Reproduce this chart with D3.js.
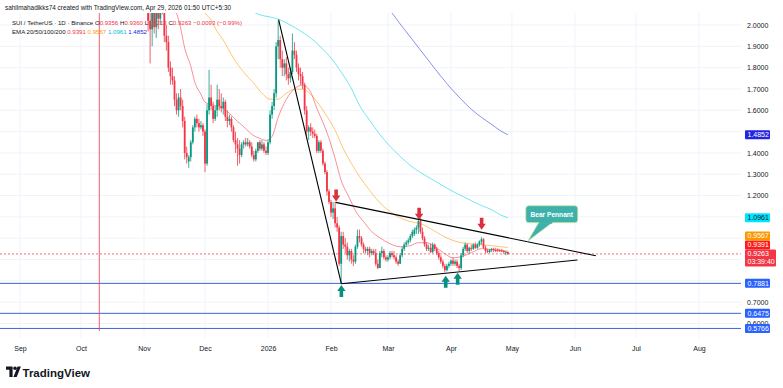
<!DOCTYPE html>
<html>
<head>
<meta charset="utf-8">
<script src="https://cdn.jsdelivr.net/npm/d3@7"></script>
<style>
  body { margin: 0; background: #fff; }
  svg text { font-family: "Liberation Sans", Arial, sans-serif; }
</style>
</head>
<body>
<svg id="chart"></svg>
<script>
// SUI / TetherUS daily, Binance - bear pennant

// daily candles [open, high, low, close], first one is Nov 3 2025
const firstDay = "2025-11-03";
const candles = [
  // Nov
  [2.25, 2.30, 1.97, 2.02], [2.02, 2.08, 1.82, 1.98], [1.98, 2.10, 1.90, 2.06], [2.06, 2.10, 1.96, 1.99],
  [1.99, 2.12, 1.94, 2.08], [2.08, 2.12, 1.98, 2.03], [2.03, 2.15, 2.00, 2.12], [2.12, 2.20, 2.05, 2.10],
  [2.10, 2.14, 1.92, 1.95], [1.95, 2.00, 1.88, 1.92], [1.92, 1.95, 1.78, 1.80], [1.80, 1.83, 1.72, 1.76],
  [1.76, 1.80, 1.72, 1.74], [1.74, 1.76, 1.62, 1.65], [1.65, 1.68, 1.58, 1.60], [1.60, 1.68, 1.57, 1.66],
  [1.66, 1.70, 1.60, 1.62], [1.62, 1.65, 1.52, 1.55], [1.55, 1.57, 1.37, 1.40], [1.40, 1.43, 1.35, 1.38],
  [1.36, 1.39, 1.33, 1.38], [1.38, 1.46, 1.36, 1.45], [1.45, 1.53, 1.44, 1.52], [1.52, 1.57, 1.50, 1.56],
  [1.56, 1.58, 1.52, 1.54], [1.54, 1.56, 1.50, 1.52], [1.52, 1.55, 1.51, 1.53], [1.53, 1.54, 1.48, 1.50],
  // Dec
  [1.50, 1.51, 1.31, 1.35], [1.35, 1.63, 1.34, 1.60], [1.60, 1.79, 1.58, 1.66], [1.66, 1.72, 1.60, 1.62],
  [1.62, 1.64, 1.54, 1.56], [1.56, 1.62, 1.55, 1.60], [1.60, 1.72, 1.57, 1.65], [1.65, 1.70, 1.60, 1.62],
  [1.62, 1.68, 1.59, 1.61], [1.61, 1.66, 1.58, 1.64], [1.64, 1.65, 1.55, 1.57], [1.57, 1.60, 1.52, 1.55],
  [1.55, 1.58, 1.53, 1.56], [1.56, 1.57, 1.50, 1.52], [1.52, 1.53, 1.45, 1.46], [1.46, 1.50, 1.40, 1.44],
  [1.44, 1.47, 1.34, 1.42], [1.42, 1.46, 1.35, 1.39], [1.39, 1.45, 1.38, 1.44], [1.44, 1.46, 1.42, 1.45],
  [1.45, 1.47, 1.43, 1.44], [1.44, 1.47, 1.43, 1.45], [1.45, 1.46, 1.42, 1.43], [1.43, 1.45, 1.38, 1.39],
  [1.39, 1.41, 1.36, 1.37], [1.37, 1.42, 1.36, 1.41], [1.41, 1.45, 1.40, 1.45], [1.45, 1.46, 1.41, 1.42],
  [1.42, 1.46, 1.41, 1.44], [1.44, 1.45, 1.40, 1.41], [1.41, 1.43, 1.39, 1.40],
  // Jan
  [1.40, 1.46, 1.39, 1.45], [1.45, 1.60, 1.44, 1.58], [1.58, 1.64, 1.56, 1.62], [1.62, 1.70, 1.60, 1.68],
  [1.68, 1.92, 1.66, 1.90], [1.90, 2.02, 1.84, 1.93], [1.93, 1.95, 1.80, 1.84], [1.84, 1.88, 1.76, 1.80],
  [1.80, 1.84, 1.76, 1.82], [1.82, 1.85, 1.74, 1.77], [1.77, 1.80, 1.72, 1.75], [1.75, 1.80, 1.73, 1.78],
  [1.78, 1.96, 1.77, 1.88], [1.88, 1.92, 1.84, 1.86], [1.86, 1.88, 1.78, 1.80], [1.80, 1.82, 1.74, 1.77],
  [1.77, 1.80, 1.72, 1.76], [1.76, 1.78, 1.70, 1.72], [1.72, 1.73, 1.58, 1.60], [1.60, 1.62, 1.48, 1.50],
  [1.50, 1.53, 1.46, 1.52], [1.52, 1.54, 1.48, 1.50], [1.50, 1.52, 1.47, 1.49], [1.49, 1.51, 1.47, 1.48],
  [1.48, 1.49, 1.40, 1.41], [1.41, 1.46, 1.40, 1.45], [1.45, 1.46, 1.40, 1.41], [1.41, 1.42, 1.34, 1.35],
  [1.35, 1.36, 1.30, 1.31], [1.31, 1.32, 1.20, 1.22], [1.22, 1.23, 1.16, 1.17],
  // Feb
  [1.17, 1.18, 1.10, 1.12], [1.12, 1.17, 1.09, 1.14], [1.14, 1.17, 1.05, 1.07], [1.07, 1.10, 1.03, 1.05],
  [1.05, 1.06, 0.87, 0.88], [0.88, 1.03, 0.787, 1.01], [1.01, 1.03, 0.95, 0.97], [0.97, 1.00, 0.93, 0.96],
  [0.96, 0.98, 0.90, 0.92], [0.92, 0.95, 0.89, 0.94], [0.94, 0.95, 0.88, 0.90], [0.90, 0.92, 0.87, 0.89],
  [0.89, 0.97, 0.88, 0.96], [0.96, 1.04, 0.95, 1.01], [1.01, 1.04, 0.98, 1.00], [1.00, 1.01, 0.96, 0.97],
  [0.97, 0.98, 0.93, 0.95], [0.95, 0.96, 0.93, 0.94], [0.94, 0.96, 0.92, 0.95], [0.95, 0.96, 0.91, 0.93],
  [0.93, 0.95, 0.92, 0.94], [0.94, 0.95, 0.92, 0.93], [0.93, 0.95, 0.87, 0.88], [0.88, 0.90, 0.855, 0.86],
  [0.86, 0.94, 0.86, 0.93], [0.93, 0.96, 0.91, 0.94], [0.94, 0.95, 0.90, 0.91], [0.91, 0.92, 0.89, 0.90],
  // Mar
  [0.90, 0.92, 0.89, 0.91], [0.91, 0.94, 0.90, 0.93], [0.93, 0.94, 0.91, 0.92], [0.92, 0.94, 0.90, 0.91],
  [0.91, 0.92, 0.88, 0.89], [0.89, 0.90, 0.87, 0.88], [0.88, 0.93, 0.88, 0.92], [0.92, 0.96, 0.91, 0.95],
  [0.95, 0.98, 0.94, 0.97], [0.97, 0.99, 0.96, 0.98], [0.98, 1.00, 0.97, 0.99], [0.99, 1.02, 0.98, 1.01],
  [1.01, 1.04, 1.00, 1.03], [1.02, 1.05, 1.01, 1.04], [1.04, 1.06, 1.02, 1.05], [1.05, 1.10, 1.02, 1.08],
  [1.08, 1.095, 1.02, 1.03], [1.03, 1.05, 0.99, 1.00], [1.00, 1.01, 0.96, 0.97], [0.97, 0.98, 0.94, 0.95],
  [0.95, 0.97, 0.94, 0.955], [0.955, 0.975, 0.93, 0.935], [0.935, 0.98, 0.93, 0.97], [0.97, 0.975, 0.94, 0.95],
  [0.95, 0.96, 0.92, 0.93], [0.93, 0.94, 0.90, 0.91], [0.91, 0.92, 0.88, 0.89], [0.89, 0.90, 0.86, 0.87],
  [0.87, 0.88, 0.84, 0.85], [0.85, 0.88, 0.845, 0.87], [0.87, 0.89, 0.86, 0.88],
  // Apr
  [0.88, 0.90, 0.87, 0.895], [0.895, 0.91, 0.87, 0.88], [0.88, 0.90, 0.87, 0.89], [0.89, 0.90, 0.86, 0.87],
  [0.87, 0.88, 0.845, 0.86], [0.86, 0.93, 0.85, 0.92], [0.92, 0.96, 0.91, 0.95], [0.95, 0.98, 0.94, 0.97],
  [0.97, 0.975, 0.93, 0.94], [0.94, 0.96, 0.93, 0.955], [0.955, 0.97, 0.94, 0.95], [0.95, 0.975, 0.945, 0.97],
  [0.97, 0.98, 0.95, 0.955], [0.955, 0.975, 0.95, 0.97], [0.97, 0.99, 0.96, 0.985], [0.985, 1.005, 0.97, 0.995],
  [0.995, 1.00, 0.95, 0.955], [0.955, 0.965, 0.93, 0.94], [0.94, 0.95, 0.93, 0.935], [0.935, 0.95, 0.93, 0.945],
  [0.945, 0.955, 0.935, 0.95], [0.95, 0.955, 0.935, 0.945], [0.945, 0.955, 0.935, 0.94], [0.948, 0.952, 0.935, 0.944],
  [0.944, 0.95, 0.935, 0.942], [0.942, 0.95, 0.935, 0.940], [0.940, 0.945, 0.925, 0.935], [0.935, 0.94, 0.92, 0.9356],
  [0.9356, 0.9360, 0.9213, 0.9263]
];

// Oct 10 crash candle, only its wick reaches the visible range
const crashCandle = ["2025-10-10", 3.58, 3.66, 0.565, 2.64];

// EMA lines [date, value]
const ema20 = [
  ["2025-11-15", 2.10], ["2025-11-17", 2.056], ["2025-11-19", 1.986], ["2025-11-21", 1.892], ["2025-11-24", 1.807],
  ["2025-11-26", 1.732], ["2025-11-29", 1.675], ["2025-12-01", 1.638], ["2025-12-04", 1.628], ["2025-12-07", 1.619],
  ["2025-12-10", 1.609], ["2025-12-13", 1.586], ["2025-12-17", 1.548], ["2025-12-21", 1.515], ["2025-12-24", 1.487],
  ["2025-12-28", 1.468], ["2025-12-31", 1.459], ["2026-01-03", 1.478], ["2026-01-06", 1.567], ["2026-01-09", 1.633],
  ["2026-01-12", 1.680], ["2026-01-15", 1.708], ["2026-01-18", 1.718], ["2026-01-22", 1.685], ["2026-01-25", 1.609],
  ["2026-01-28", 1.544], ["2026-01-31", 1.468], ["2026-02-03", 1.374], ["2026-02-06", 1.271], ["2026-02-10", 1.190],
  ["2026-02-13", 1.129], ["2026-02-17", 1.078], ["2026-02-21", 1.031], ["2026-02-25", 1.002], ["2026-03-02", 0.974],
  ["2026-03-07", 0.960], ["2026-03-12", 0.965], ["2026-03-16", 0.979], ["2026-03-20", 0.979], ["2026-03-24", 0.960],
  ["2026-03-29", 0.927], ["2026-04-02", 0.908], ["2026-04-06", 0.913], ["2026-04-11", 0.932], ["2026-04-16", 0.951],
  ["2026-04-21", 0.946], ["2026-04-25", 0.941], ["2026-04-29", 0.9391]
];
const ema50 = [
  ["2025-11-28", 2.10], ["2025-12-01", 2.056], ["2025-12-04", 2.024], ["2025-12-06", 1.986], ["2025-12-10", 1.929],
  ["2025-12-15", 1.845], ["2025-12-20", 1.779], ["2025-12-25", 1.727], ["2025-12-29", 1.680], ["2026-01-02", 1.652],
  ["2026-01-06", 1.652], ["2026-01-10", 1.680], ["2026-01-14", 1.699], ["2026-01-18", 1.699], ["2026-01-22", 1.675],
  ["2026-01-26", 1.628], ["2026-01-30", 1.572], ["2026-02-03", 1.506], ["2026-02-07", 1.421], ["2026-02-11", 1.351],
  ["2026-02-15", 1.289], ["2026-02-20", 1.224], ["2026-02-25", 1.167], ["2026-03-02", 1.125], ["2026-03-07", 1.096],
  ["2026-03-12", 1.078], ["2026-03-17", 1.068], ["2026-03-22", 1.045], ["2026-03-27", 1.016], ["2026-04-01", 0.993],
  ["2026-04-06", 0.979], ["2026-04-11", 0.974], ["2026-04-16", 0.969], ["2026-04-21", 0.965], ["2026-04-25", 0.960],
  ["2026-04-29", 0.9567]
];
const ema100 = [
  ["2025-12-20", 2.09], ["2025-12-26", 2.056], ["2025-12-29", 2.045], ["2026-01-02", 2.038], ["2026-01-07", 2.024],
  ["2026-01-12", 2.000], ["2026-01-17", 1.972], ["2026-01-22", 1.939], ["2026-01-27", 1.896], ["2026-02-01", 1.845],
  ["2026-02-06", 1.779], ["2026-02-11", 1.703], ["2026-02-15", 1.623], ["2026-02-20", 1.553], ["2026-02-25", 1.487],
  ["2026-03-02", 1.431], ["2026-03-07", 1.384], ["2026-03-12", 1.341], ["2026-03-17", 1.308], ["2026-03-22", 1.280],
  ["2026-03-27", 1.252], ["2026-04-01", 1.224], ["2026-04-06", 1.200], ["2026-04-11", 1.176], ["2026-04-16", 1.153],
  ["2026-04-21", 1.134], ["2026-04-25", 1.111], ["2026-04-29", 1.0961]
];
const ema200 = [
  ["2026-02-27", 2.10], ["2026-03-03", 2.056], ["2026-03-07", 2.005], ["2026-03-12", 1.944], ["2026-03-17", 1.882],
  ["2026-03-22", 1.821], ["2026-03-27", 1.760], ["2026-04-01", 1.703], ["2026-04-06", 1.652], ["2026-04-11", 1.605],
  ["2026-04-16", 1.567], ["2026-04-21", 1.534], ["2026-04-25", 1.506], ["2026-04-29", 1.4852]
];

// horizontal support levels
const levels = [0.7881, 0.6475, 0.5766];
const lastPrice = 0.9263;
const countdown = "03:39:40";

// axis ticks
const priceTicks = [2.0, 1.9, 1.8, 1.7, 1.6, 1.5, 1.4, 1.3, 1.2, 1.1, 1.0, 0.9, 0.8, 0.7, 0.6];
const monthTicks = ["2025-09-01", "2025-10-01", "2025-11-01", "2025-12-01", "2026-01-01", "2026-02-01",
  "2026-03-01", "2026-04-01", "2026-05-01", "2026-06-01", "2026-07-01", "2026-08-01"];
const monthLabels = ["Sep", "Oct", "Nov", "Dec", "2026", "Feb", "Mar", "Apr", "May", "Jun", "Jul", "Aug"];

// drawings
const trendLines = [
  [["2026-01-06T05:00", 2.025], ["2026-02-06T02:00", 0.786]],
  [["2026-02-03T05:00", 1.168], ["2026-06-11T07:00", 0.9176]],
  [["2026-02-06T02:00", 0.7866], ["2026-06-02T05:00", 0.8974]]
];
const downArrows = [["2026-02-03T12:00", 1.172], ["2026-03-16T08:00", 1.087], ["2026-04-16T02:00", 1.040]];
const upArrows = [["2026-02-06T02:00", 0.781], ["2026-03-29T10:00", 0.824], ["2026-04-04T07:00", 0.838]];
const pennantTip = ["2026-05-08T19:00", 0.986];
const pennantText = "Bear Pennant";

const headerText = "sahilmahadikks74 created with TradingView.com, Apr 29, 2026 01:50 UTC+5:30";

const toDate = s => new Date(s.length === 10 ? s + "T00:00Z" : s + "Z");

var dimensions = {
    width: 783,
    height: 388,
    plotTop: 13,
    plotBottom: 338,
    plotRight: 741
}

const upColor = "#089981", downColor = "#f23645";
const textColor = "#131722";

var svg = d3.select("#chart")
    .attr("width", dimensions.width)
    .attr("height", dimensions.height)
    .style("background-color", "white");

var xScale = d3.scaleUtc()
    .domain([toDate("2025-08-22T03:33"), toDate("2026-08-21T16:20")])
    .range([0, dimensions.plotRight]);

var yScale = d3.scaleLinear()
    .domain([0.5318, 2.0565])
    .range([dimensions.plotBottom, dimensions.plotTop]);

// bars with dates
var start = toDate(firstDay);
var bars = candles.map((c, i) => ({ date: d3.utcDay.offset(start, i), o: c[0], h: c[1], l: c[2], c: c[3] }));
bars.unshift({ date: toDate(crashCandle[0]), o: crashCandle[1], h: crashCandle[2], l: crashCandle[3], c: crashCandle[4] });

svg.append("defs").append("clipPath").attr("id", "plotClip")
    .append("rect")
    .attr("x", 0).attr("y", dimensions.plotTop)
    .attr("width", dimensions.plotRight).attr("height", dimensions.plotBottom - dimensions.plotTop);

// grid
var grid = svg.append("g");
grid.selectAll(".hgrid").data(priceTicks).enter().append("line")
    .attr("x1", 0).attr("x2", dimensions.plotRight)
    .attr("y1", d => yScale(d)).attr("y2", d => yScale(d))
    .attr("stroke", "#f0f3fa").attr("stroke-width", 1);
grid.selectAll(".vgrid").data(monthTicks).enter().append("line")
    .attr("x1", d => xScale(toDate(d))).attr("x2", d => xScale(toDate(d)))
    .attr("y1", dimensions.plotTop).attr("y2", dimensions.plotBottom)
    .attr("stroke", "#f0f3fa").attr("stroke-width", 1);

var plot = svg.append("g").attr("clip-path", "url(#plotClip)");

// support levels
plot.selectAll(".level").data(levels).enter().append("line")
    .attr("x1", 0).attr("x2", dimensions.plotRight + 4)
    .attr("y1", d => yScale(d)).attr("y2", d => yScale(d))
    .attr("stroke", "#3d63d8").attr("stroke-width", 1);

// moving averages
var maLine = d3.line()
    .x(d => xScale(toDate(d[0])))
    .y(d => yScale(d[1]))
    .curve(d3.curveMonotoneX);

const maSeries = [
    { data: ema200, color: "#3131e6" },
    { data: ema100, color: "#00d2ea" },
    { data: ema50, color: "#ff9800" },
    { data: ema20, color: "#f23645" }
];
plot.selectAll(".ma").data(maSeries).enter().append("path")
    .attr("d", d => maLine(d.data))
    .attr("fill", "none")
    .attr("stroke", d => d.color)
    .attr("stroke-opacity", 0.55)
    .attr("stroke-width", 1);

// last price line
plot.append("line")
    .attr("x1", 0).attr("x2", dimensions.plotRight)
    .attr("y1", yScale(lastPrice)).attr("y2", yScale(lastPrice))
    .attr("stroke", downColor).attr("stroke-opacity", 0.7)
    .attr("stroke-dasharray", "2,2").attr("stroke-width", 1);

// candles
plot.selectAll(".wick").data(bars).enter().append("line")
    .attr("x1", d => xScale(d.date)).attr("x2", d => xScale(d.date))
    .attr("y1", d => yScale(d.h)).attr("y2", d => yScale(d.l))
    .attr("stroke", d => d.c >= d.o ? upColor : downColor)
    .attr("stroke-width", 0.8);
plot.selectAll(".body").data(bars).enter().append("rect")
    .attr("x", d => xScale(d.date) - 0.9)
    .attr("width", 1.8)
    .attr("y", d => yScale(Math.max(d.o, d.c)))
    .attr("height", d => Math.max(0.8, Math.abs(yScale(d.o) - yScale(d.c))))
    .attr("fill", d => d.c >= d.o ? upColor : downColor);

// trend lines
var tLine = d3.line().x(d => xScale(toDate(d[0]))).y(d => yScale(d[1]));
plot.selectAll(".trend").data(trendLines).enter().append("path")
    .attr("d", d => tLine(d))
    .attr("stroke", "#000").attr("stroke-width", 1.1).attr("fill", "none");

// arrows
function arrowPath(tx, ty, dir) {
    // dir = 1 pointing down (tip at bottom), -1 pointing up
    const hw = 4.2, sw = 1.8, hh = 6, len = 12;
    const b = ty - dir * hh, e = ty - dir * len;
    return `M${tx},${ty}L${tx - hw},${b}L${tx - sw},${b}L${tx - sw},${e}L${tx + sw},${e}L${tx + sw},${b}L${tx + hw},${b}Z`;
}
svg.selectAll(".darrow").data(downArrows).enter().append("path")
    .attr("d", d => arrowPath(xScale(toDate(d[0])), yScale(d[1]), 1))
    .attr("fill", "#d9323f");
svg.selectAll(".uarrow").data(upArrows).enter().append("path")
    .attr("d", d => arrowPath(xScale(toDate(d[0])), yScale(d[1]), -1))
    .attr("fill", "#07917d");

// Bear Pennant callout
var tipX = xScale(toDate(pennantTip[0])), tipY = yScale(pennantTip[1]);
var callout = svg.append("g");
callout.append("path")
    .attr("d", `M${tipX + 11},${tipY - 19}L${tipX + 25},${tipY - 19}L${tipX},${tipY}Z`)
    .attr("fill", "#3fb1ab").attr("stroke", "#cfe9a8").attr("stroke-width", 0.8);
callout.append("rect")
    .attr("x", tipX - 2).attr("y", tipY - 35.5)
    .attr("width", 52).attr("height", 17).attr("rx", 3)
    .attr("fill", "#3fb1ab").attr("stroke", "#cfe9a8").attr("stroke-width", 0.8);
callout.append("rect")
    .attr("x", tipX + 11.5).attr("y", tipY - 19.5)
    .attr("width", 13).attr("height", 2)
    .attr("fill", "#3fb1ab");
callout.append("text")
    .attr("x", tipX + 24).attr("y", tipY - 24.6)
    .attr("text-anchor", "middle")
    .attr("fill", "#fff").attr("font-size", 6.6).attr("font-weight", "bold")
    .text(pennantText);

// price scale labels, stacked upwards when they collide
var tags = [
    { v: ema200[ema200.length - 1][1], bg: "#2424e0", fg: "#fff" },
    { v: ema100[ema100.length - 1][1], bg: "#00e5ff", fg: textColor },
    { v: ema50[ema50.length - 1][1], bg: "#ff9800", fg: "#fff" },
    { v: ema20[ema20.length - 1][1], bg: "#ff1a1a", fg: "#fff" },
    { v: lastPrice, bg: "#f23645", fg: "#fff", extra: countdown },
    { v: levels[0], bg: "#2962ff", fg: "#fff" },
    { v: levels[1], bg: "#2962ff", fg: "#fff" },
    { v: levels[2], bg: "#2962ff", fg: "#fff" }
];
tags.forEach(t => {
    t.h = t.extra ? 17 : 9;
    t.top = yScale(t.v) - 4.5;
});
tags.sort((a, b) => b.top - a.top);
for (var i = 1; i < tags.length; i++) {
    var below = tags[i - 1];
    if (tags[i].top + tags[i].h > below.top) tags[i].top = below.top - tags[i].h;
}

// right price axis, ticks whose centre sits under a tag are hidden like on the price scale
var shownTicks = priceTicks.filter(v => !tags.some(t => yScale(v) > t.top && yScale(v) < t.top + t.h));
var yAxis = svg.append("g")
    .attr("transform", `translate(745,0)`)
    .call(d3.axisRight(yScale).tickValues(shownTicks).tickFormat(d3.format(".4f")).tickSize(0).tickPadding(2));
yAxis.select(".domain").remove();
yAxis.selectAll("text").attr("font-size", 7).attr("fill", textColor).attr("font-family", "Liberation Sans, Arial, sans-serif");

// bottom time axis
var xAxis = svg.append("g")
    .attr("transform", `translate(0,${dimensions.plotBottom + 8})`)
    .call(d3.axisBottom(xScale).tickValues(monthTicks.map(toDate)).tickFormat((d, i) => monthLabels[i]).tickSize(0).tickPadding(0));
xAxis.select(".domain").remove();
xAxis.selectAll("text").attr("font-size", 7).attr("fill", textColor).attr("font-family", "Liberation Sans, Arial, sans-serif");

var tagG = svg.selectAll(".tag").data(tags).enter().append("g");
tagG.append("rect")
    .attr("x", 745).attr("y", d => d.top)
    .attr("width", d => d.extra ? 31 : 25).attr("height", d => d.h)
    .attr("rx", 1)
    .attr("fill", d => d.bg);
tagG.append("text")
    .attr("x", 747.5).attr("y", d => d.top + 6.9)
    .attr("font-size", 7).attr("fill", d => d.fg)
    .text(d => d3.format(".4f")(d.v));
tagG.filter(d => d.extra).append("text")
    .attr("x", 747.5).attr("y", d => d.top + 14.6)
    .attr("font-size", 7).attr("fill", "#fff")
    .text(d => d.extra);

// header + legend
svg.append("text")
    .attr("x", 5).attr("y", 9.5)
    .attr("font-size", 6.4).attr("fill", textColor)
    .text(headerText);

const legendRow1 = [
    ["SUI / TetherUS · 1D · Binance ", textColor], ["O", textColor], ["0.9356 ", downColor],
    ["H", textColor], ["0.9360 ", downColor], ["L", textColor], ["0.9213 ", downColor],
    ["C", textColor], ["0.9263 ", downColor], ["−0.0093 (−0.99%)", downColor]
];
const legendRow2 = [
    ["EMA 20/50/100/200 ", textColor], ["0.9391 ", "#f23645"], ["0.9567 ", "#ff9800"],
    ["1.0961 ", "#00bcd4"], ["1.4852", "#2424e0"]
];
[legendRow1, legendRow2].forEach((row, r) => {
    var t = svg.append("text")
        .attr("x", 12).attr("y", 25 + r * 8.6)
        .attr("font-size", 6.1)
        .attr("xml:space", "preserve");
    row.forEach(p => t.append("tspan").attr("fill", p[1]).text(p[0]));
});

// TradingView logo
var logo = svg.append("g").attr("fill", textColor);
logo.append("path").attr("d", "M6,366.5h6.6v10.5h-3.2v-7.3h-3.4z");
logo.append("circle").attr("cx", 15).attr("cy", 368.3).attr("r", 1.8);
logo.append("path").attr("d", "M17.6,366.5h3.3l-4.2,10.5h-3.3z");
svg.append("text")
    .attr("x", 22.5).attr("y", 376.5)
    .attr("font-size", 11.5).attr("font-weight", "bold").attr("fill", textColor)
    .attr("font-family", "Roboto, Arial, sans-serif")
    .text("TradingView");
</script>
</body>
</html>
